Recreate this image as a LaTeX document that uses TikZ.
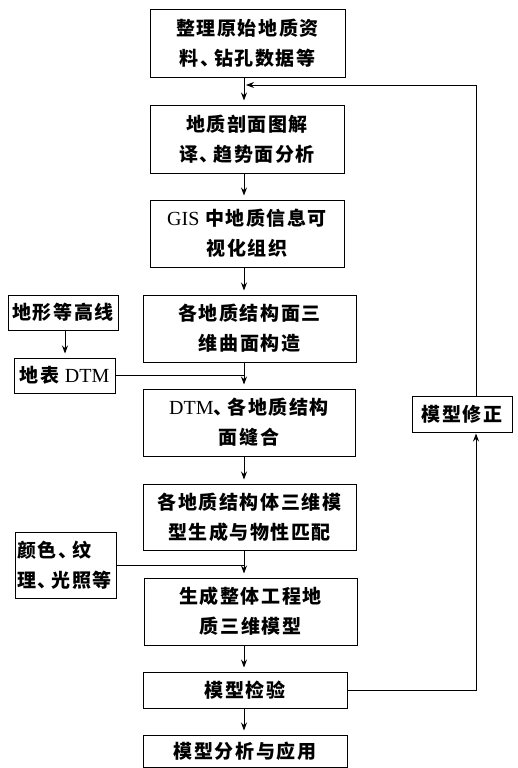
\documentclass[tikz,border=0pt]{standalone}
\usepackage{fontspec}
\newfontfamily\cjk[LetterSpace=8]{Noto Sans CJK SC}
\newfontfamily\ltn{Liberation Serif}
\newcommand\lat[1]{{\ltn\mdseries\fontsize{20pt}{30pt}\selectfont #1}}
\newcommand\dun{、\kern-5pt}
\usetikzlibrary{arrows.meta}
\begin{document}
\begin{tikzpicture}[x=1pt,y=-1pt,
  box/.style={draw,line width=1pt,inner sep=0pt,align=center,
    font=\cjk\bfseries\fontsize{19pt}{30pt}\selectfont},
  arr/.style={-{Stealth[length=8pt,width=6pt]},line width=0.9pt,shorten >=4pt},
  ln/.style={line width=0.9pt}]
\useasboundingbox (0,0) rectangle (518,768);
\coordinate (sp) at (244,0);
\coordinate (fx) at (476,0);
\coordinate (lx) at (65,0);
\coordinate (fb) at (244,85);
% main column
\node[box,minimum width=195pt,minimum height=67pt] (b1) at (247.5,43.5) {整理原始地质资\\料\dun 钻孔数据等};
\node[box,minimum width=194pt,minimum height=68pt] (b2) at (247,139) {地质剖面图解\\译\dun 趋势面分析};
\node[box,minimum width=194pt,minimum height=67pt] (b3) at (247,233.5) {\lat{GIS} 中地质信息可\\视化组织};
\node[box,minimum width=213pt,minimum height=67pt] (b4) at (249.5,328.5) {各地质结构面三\\维曲面构造};
\node[box,minimum width=212pt,minimum height=67pt] (b5) at (249,422.5) {\lat{DTM}\dun 各地质结构\\面缝合};
\node[box,minimum width=213pt,minimum height=66pt] (b6) at (249.5,517) {各地质结构体三维模\\型生成与物性匹配};
\node[box,minimum width=213pt,minimum height=67pt] (b7) at (250.5,611.5) {生成整体工程地\\质三维模型};
\node[box,minimum width=204pt,minimum height=36pt] (b8) at (245,690) {模型检验};
\node[box,minimum width=204pt,minimum height=32pt] (b9) at (245,751) {模型分析与应用};
% left column
\node[box,minimum width=110pt,minimum height=35pt] (l1) at (63,312.5) {地形等高线};
\node[box,minimum width=101pt,minimum height=35pt] (l2) at (64.5,375.5) {地表 \lat{DTM}};
\node[box,minimum width=101pt,minimum height=66pt,align=left,text width=97pt] (l3) at (65.5,565) {颜色\dun 纹\\理\dun 光照等};
% right
\node[box,minimum width=100pt,minimum height=36pt] (m) at (462,414) {模型修正};
% connectors
\draw[arr] (b1.south -| sp) -- (b2.north -| sp);
\draw[arr] (b2.south -| sp) -- (b3.north -| sp);
\draw[arr] (b3.south -| sp) -- (b4.north -| sp);
\draw[arr] (b4.south -| sp) -- (b5.north -| sp);
\draw[arr] (b5.south -| sp) -- (b6.north -| sp);
\draw[arr] (b6.south -| sp) -- (b7.north -| sp);
\draw[arr] (b7.south -| sp) -- (b8.north -| sp);
\draw[arr] (b8.south -| sp) -- (b9.north -| sp);
\draw[arr] (l1.south -| lx) -- (l2.north -| lx);
\draw[ln] (l2.east) -- (l2.east -| sp);
\draw[ln] (l3.east) -- (l3.east -| sp);
\draw[arr,shorten >=1pt] (b8.east) -| (m.south -| fx);
\draw[arr,shorten >=2pt] (m.north -| fx) |- (fb);
\end{tikzpicture}
\end{document}
